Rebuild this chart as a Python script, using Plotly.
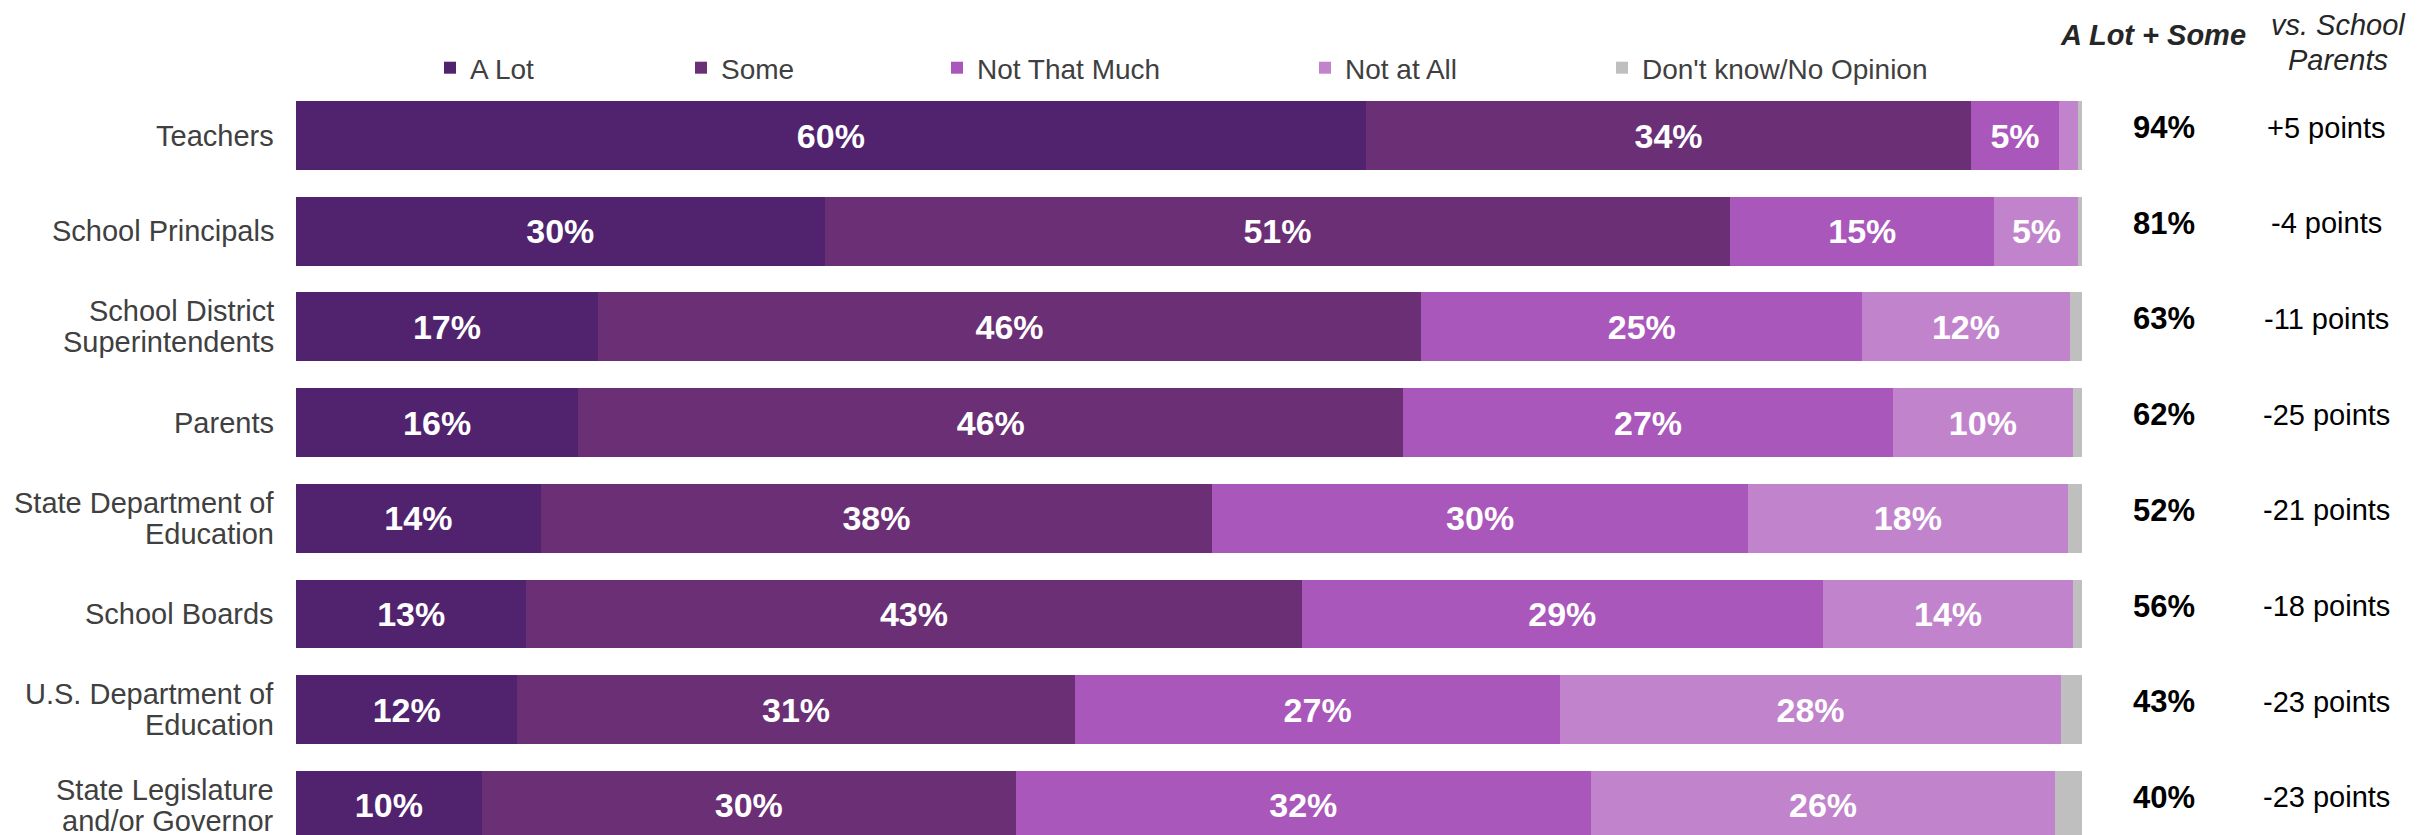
import plotly.graph_objects as go

categories = ["Teachers", "School Principals", "School District<br>Superintendents", "Parents",
              "State Department of<br>Education", "School Boards", "U.S. Department of<br>Education",
              "State Legislature<br>and/or Governor"]
a_lot = [59.9, 29.6, 16.9, 15.8, 13.7, 12.9, 12.4, 10.4]
some = [33.9, 50.7, 46.1, 46.2, 37.6, 43.4, 31.2, 29.9]
not_much = [4.9, 14.8, 24.7, 27.4, 30.0, 29.2, 27.2, 32.2]
not_at_all = [1.1, 4.7, 11.6, 10.1, 17.9, 14.0, 28.0, 26.0]
dont_know = [0.2, 0.2, 0.7, 0.5, 0.8, 0.5, 1.2, 1.5]
a_lot_some = [94, 81, 63, 62, 52, 56, 43, 40]
vs_parents = [5, -4, -11, -25, -21, -18, -23, -23]

series = [("A Lot", a_lot, "#51236F"), ("Some", some, "#6B2F76"),
          ("Not That Much", not_much, "#AA57BB"), ("Not at All", not_at_all, "#C184CC"),
          ("Don't know/No Opinion", dont_know, "#BFBFBF")]

FONT = "Liberation Sans, Arial, sans-serif"
W, H = 2425, 835
OFF = 8                      # page body margin
L, R, T = 296, 2082, 87      # target screen positions of plot area
PITCH = 95.7
PLOT_H = H + OFF - T         # plot area runs to the figure bottom

fig = go.Figure()
legend_text_x = [470, 721, 977, 1345, 1642]
for i, (name, vals, col) in enumerate(series):
    lg = "legend" if i == 0 else f"legend{i+1}"
    txt = [f"{v:.0f}%" if (v >= 3 and name != "Don't know/No Opinion") else "" for v in vals]
    fig.add_trace(go.Bar(
        y=categories, x=vals, name=name, orientation="h", marker=dict(color=col, line=dict(width=0)),
        text=txt, textposition="inside", insidetextanchor="middle", textangle=0,
        textfont=dict(family=FONT, size=34, color="white", weight="bold"),
        hoverinfo="skip", legend=lg, showlegend=True))

layout_legends = {}
for i in range(5):
    key = "legend" if i == 0 else f"legend{i+1}"
    layout_legends[key] = dict(
        orientation="h", xref="container", yref="container",
        x=(legend_text_x[i] - 40 - OFF) / W, xanchor="left",
        y=1 - (68 - OFF) / H, yanchor="middle",
        font=dict(family=FONT, size=28, color="#404040"),
        bgcolor="rgba(0,0,0,0)", borderwidth=0, itemwidth=30)

annotations = []
for c in categories:
    lines = c.split("<br>")
    n = len(lines)
    for j, ln in enumerate(lines):
        annotations.append(dict(
            x=0, xref="x", y=c, yref="y", text=ln, showarrow=False,
            xanchor="right", yanchor="middle", xshift=-20,
            yshift=(n - 1) * 15.5 - j * 31,
            font=dict(family=FONT, size=29, color="#404040")))

def px_x(p):
    return (p - L) / (R - L)

def px_y(p):
    return 1 + (T - p) / PLOT_H

for c, v, d in zip(categories, a_lot_some, vs_parents):
    annotations.append(dict(
        x=px_x(2164), xref="paper", y=c, yref="y", text=f"<b>{v}%</b>", showarrow=False,
        xanchor="center", yanchor="middle", yshift=8,
        font=dict(family=FONT, size=31, color="#000000")))
    annotations.append(dict(
        x=px_x(2326), xref="paper", y=c, yref="y", text=f"{d:+d} points", showarrow=False,
        xanchor="center", yanchor="middle", yshift=8,
        font=dict(family=FONT, size=29, color="#000000")))

annotations.append(dict(
    x=px_x(2153), xref="paper", y=px_y(35), yref="paper", text="<b><i>A Lot + Some</i></b>",
    showarrow=False, xanchor="center", yanchor="middle",
    font=dict(family=FONT, size=29, color="#262626")))
for txt, py in [("<i>vs. School</i>", 24.5), ("<i>Parents</i>", 60)]:
    annotations.append(dict(
        x=px_x(2338), xref="paper", y=px_y(py), yref="paper", text=txt,
        showarrow=False, xanchor="center", yanchor="middle",
        font=dict(family=FONT, size=29, color="#262626")))

# first bar centre at ~135.5 px on screen
top_val = -(135.5 - T) / PITCH
y_bottom = top_val + PLOT_H / PITCH

fig.update_layout(
    width=W, height=H, barmode="stack", bargap=0.28, showlegend=True,
    margin=dict(l=L - OFF, r=W - (R - OFF), t=T - OFF, b=0, pad=0, autoexpand=False),
    paper_bgcolor="white", plot_bgcolor="white",
    xaxis=dict(range=[0, 100], visible=False, fixedrange=True),
    yaxis=dict(type="category", categoryarray=categories, range=[y_bottom, top_val],
               showticklabels=False, showgrid=False, zeroline=False, showline=False, ticks=""),
    annotations=annotations,
    font=dict(family=FONT),
    **layout_legends)

fig.write_html("out.html")
